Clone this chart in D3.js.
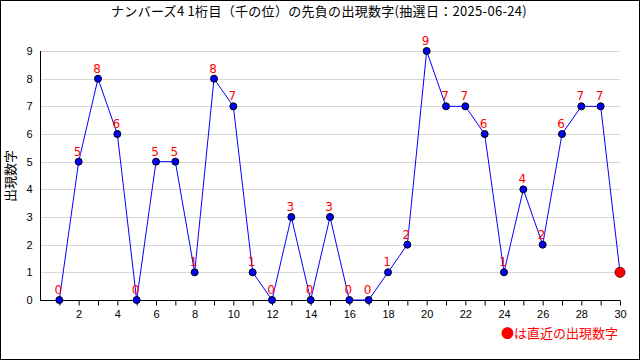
<!DOCTYPE html>
<html>
<head>
<meta charset="utf-8">
<script src="https://cdn.jsdelivr.net/npm/d3@7"></script>
<style>
  body { margin: 0; background: #fff; }
  svg { display: block; font-family: "DejaVu Sans", "Noto Sans CJK JP", sans-serif; }
</style>
</head>
<body>
<div id="chart"></div>
<script>
// data
var draws = d3.range(1, 31);
var digits = [0, 5, 8, 6, 0, 5, 5, 1, 8, 7, 1, 0, 3, 0, 3, 0, 0, 1, 2, 9, 7, 7, 6, 1, 4, 2, 6, 7, 7, 1];
var yTicks = [0, 1, 2, 3, 4, 5, 6, 7, 8, 9];
var xLabels = [2, 4, 6, 8, 10, 12, 14, 16, 18, 20, 22, 24, 26, 28, 30];
var titleText = "ナンバーズ4 1桁目（千の位）の先負の出現数字(抽選日：2025-06-24)";
var yTitle = "出現数字";
var legendText = "●は直近の出現数字";

var width = 640, height = 360;
var plotLeft = 40, plotRight = 620, plotTop = 51, plotBottom = 300;

var svg = d3.select("#chart").append("svg")
  .attr("width", width)
  .attr("height", height);

svg.append("rect")
  .attr("x", 0.5).attr("y", 0.5)
  .attr("width", width - 1).attr("height", height - 1)
  .attr("fill", "#fff").attr("stroke", "#000");

var x = d3.scaleLinear().domain([0, 30]).range([plotLeft, plotRight]);
var y = d3.scaleLinear().domain([0, 9]).range([plotBottom, plotTop]);

// grid
svg.append("g")
  .selectAll("line")
  .data(yTicks.slice(1))
  .enter().append("line")
  .attr("x1", plotLeft).attr("x2", plotRight)
  .attr("y1", d => Math.round(y(d)) + 0.5)
  .attr("y2", d => Math.round(y(d)) + 0.5)
  .attr("stroke", "#d8d8d8");

// x axis
var xAxis = d3.axisBottom(x)
  .tickValues(d3.range(1, 31))
  .tickSize(5)
  .tickSizeOuter(0)
  .tickFormat(d => xLabels.indexOf(d) >= 0 ? d : "");
var gx = svg.append("g")
  .attr("transform", "translate(0," + (plotBottom + 0.5) + ")")
  .call(xAxis);
gx.select(".domain").attr("d", "M" + plotLeft + ",0H" + plotRight);
gx.selectAll("text").attr("font-size", 11).attr("fill", "#000").attr("dy", "0.9em");

// y axis
var gy = svg.append("g")
  .attr("transform", "translate(" + (plotLeft + 0.5) + ",0)")
  .call(d3.axisLeft(y).tickValues(yTicks).tickSize(0).tickPadding(8));
gy.select(".domain").attr("d", "M0," + plotTop + "V" + plotBottom);
gy.selectAll("text").attr("font-size", 11).attr("fill", "#000");
svg.selectAll(".domain").attr("stroke", "#000");

// line
var line = d3.line()
  .x((d, i) => x(draws[i]))
  .y(d => y(d));
svg.append("path")
  .datum(digits)
  .attr("d", line)
  .attr("fill", "none")
  .attr("stroke", "#0000ff")
  .attr("stroke-width", 1);

// points
svg.append("g")
  .selectAll("circle")
  .data(digits)
  .enter().append("circle")
  .attr("cx", (d, i) => x(draws[i]))
  .attr("cy", d => y(d))
  .attr("r", (d, i) => i == digits.length - 1 ? 5 : 3.5)
  .attr("fill", (d, i) => i == digits.length - 1 ? "#ff0000" : "#0000ff")
  .attr("stroke", (d, i) => i == digits.length - 1 ? "#800000" : "#000");

// value labels
svg.append("g")
  .selectAll("text")
  .data(digits.slice(0, -1))
  .enter().append("text")
  .attr("x", (d, i) => x(draws[i]) - 1)
  .attr("y", d => y(d) - 6)
  .attr("text-anchor", "middle")
  .attr("font-size", 12)
  .attr("fill", "#ff0000")
  .text(d => d);

// titles
svg.append("text")
  .attr("x", 319).attr("y", 16)
  .attr("text-anchor", "middle")
  .attr("font-family", "Noto Sans CJK JP")
  .attr("font-size", 13)
  .attr("letter-spacing", 0.3)
  .attr("fill", "#000")
  .text(titleText);

svg.append("text")
  .attr("transform", "translate(15,176) rotate(-90)")
  .attr("text-anchor", "middle")
  .attr("font-family", "Noto Sans CJK JP")
  .attr("font-size", 13)
  .attr("fill", "#000")
  .text(yTitle);

svg.append("text")
  .attr("x", 618).attr("y", 338)
  .attr("text-anchor", "end")
  .attr("font-family", "Noto Sans CJK JP")
  .attr("font-size", 13)
  .attr("fill", "#ff0000")
  .text(legendText);
</script>
</body>
</html>
